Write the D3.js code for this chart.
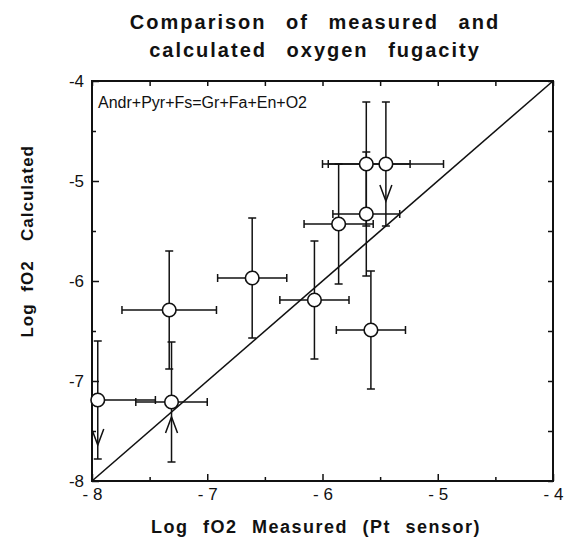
<!DOCTYPE html>
<html>
<head>
<meta charset="utf-8">
<script src="https://cdn.jsdelivr.net/npm/d3@7"></script>
<style>
  body { margin: 0; background: #fff; }
  text { font-family: "Liberation Sans", Arial, sans-serif; fill: #111; }
</style>
</head>
<body>
<script>
// data (log fO2 values)
var measured   = [-7.95, -7.31, -7.33, -6.61, -6.07, -5.58, -5.86, -5.62, -5.62, -5.45];
var calculated = [-7.19, -7.21, -6.29, -5.97, -6.19, -6.49, -5.43, -5.33, -4.83, -4.83];
var measErr    = [0.5, 0.31, 0.41, 0.3, 0.3, 0.3, 0.3, 0.29, 0.38, 0.5];
var calcErr    = [0.59, 0.6, 0.59, 0.6, 0.59, 0.59, 0.6, 0.62, 0.62, 0.62];
// limit arrows: which point, direction, tip value
var arrowPoint = [0, 1, 9];
var arrowDir   = ["down", "up", "down"];
var arrowTip   = [-7.64, -7.36, -5.2];

var xTicks = [-8, -7, -6, -5, -4];
var yTicks = [-8, -7, -6, -5, -4];
var minorTicks = [-7.5, -6.5, -5.5, -4.5];

var titleLines = ["Comparison of measured and", "calculated oxygen fugacity"];
var reaction = "Andr+Pyr+Fs=Gr+Fa+En+O2";

var margin = {top: 81, right: 11, bottom: 63, left: 92};
var width = 564 - margin.left - margin.right,
	height = 544 - margin.top - margin.bottom;

var svg = d3.select("body").append("svg")
	.attr("width", 564)
	.attr("height", 544);

var g = svg.append("g")
	.attr("transform", "translate(" + margin.left + "," + margin.top + ")");

var x = d3.scaleLinear().domain([-8, -4]).range([0, width]);
var y = d3.scaleLinear().domain([-8, -4]).range([height, 0]);

// title
svg.selectAll(".title")
	.data(titleLines)
	.enter()
	.append("text")
	.attr("class", "title")
	.attr("x", 315)
	.attr("y", function(d, i) { return 29 + i * 28; })
	.attr("text-anchor", "middle")
	.style("font-size", "20px")
	.style("font-weight", "bold")
	.style("letter-spacing", "2px")
	.style("word-spacing", "12px")
	.text(function(d) { return d; });

// axes: major ticks with labels, minor ticks without, ticks pointing inward
function styleAxis(sel) {
	sel.select(".domain").remove();
	sel.selectAll(".tick line").attr("stroke", "#111").attr("stroke-width", 1.5);
}

g.append("g")
	.attr("transform", "translate(0," + height + ")")
	.call(d3.axisBottom(x).tickValues(xTicks).tickSize(-7).tickPadding(7)
		.tickFormat(function(d) { return "- " + Math.abs(d); }))
	.call(styleAxis)
	.selectAll("text").style("font-size", "17px").attr("fill", "#111");

g.append("g")
	.attr("transform", "translate(0," + height + ")")
	.call(d3.axisBottom(x).tickValues(minorTicks).tickSize(-4).tickFormat(""))
	.call(styleAxis);

g.append("g")
	.call(d3.axisTop(x).tickValues(xTicks.concat(minorTicks)).tickSize(-5).tickFormat(""))
	.call(styleAxis);

g.append("g")
	.call(d3.axisLeft(y).tickValues(yTicks).tickSize(-7).tickPadding(8)
		.tickFormat(function(d) { return "-" + Math.abs(d); }))
	.call(styleAxis)
	.selectAll("text").style("font-size", "17px").attr("fill", "#111");

g.append("g")
	.call(d3.axisLeft(y).tickValues(minorTicks).tickSize(-4).tickFormat(""))
	.call(styleAxis);

g.append("g")
	.attr("transform", "translate(" + width + ",0)")
	.call(d3.axisRight(y).tickValues(yTicks.concat(minorTicks)).tickSize(-5).tickFormat(""))
	.call(styleAxis);

// frame
g.append("rect")
	.attr("width", width)
	.attr("height", height)
	.attr("fill", "none")
	.attr("stroke", "#111")
	.attr("stroke-width", 2);

// 1:1 line
g.append("line")
	.attr("x1", x(-8)).attr("y1", y(-8))
	.attr("x2", x(-4)).attr("y2", y(-4))
	.attr("stroke", "#111")
	.attr("stroke-width", 1.6);

// reaction label
g.append("text")
	.attr("x", 6)
	.attr("y", 27)
	.style("font-size", "16px")
	.text(reaction);

var idx = d3.range(measured.length);
var cap = 4;
var clip = function(v) { return Math.max(-8, Math.min(-4, v)); };

var bars = g.append("g")
	.attr("stroke", "#111")
	.attr("stroke-width", 1.5)
	.attr("fill", "none");

// horizontal error bars
bars.selectAll(".hbar")
	.data(idx)
	.enter()
	.append("line")
	.attr("x1", function(i) { return x(clip(measured[i] - measErr[i])); })
	.attr("x2", function(i) { return x(clip(measured[i] + measErr[i])); })
	.attr("y1", function(i) { return y(calculated[i]); })
	.attr("y2", function(i) { return y(calculated[i]); });

// horizontal caps
idx.forEach(function(i) {
	[measured[i] - measErr[i], measured[i] + measErr[i]].forEach(function(v) {
		if (v < -8) return;
		bars.append("line")
			.attr("x1", x(v)).attr("x2", x(v))
			.attr("y1", y(calculated[i]) - cap)
			.attr("y2", y(calculated[i]) + cap);
	});
});

// vertical error bars
bars.selectAll(".vbar")
	.data(idx)
	.enter()
	.append("line")
	.attr("x1", function(i) { return x(measured[i]); })
	.attr("x2", function(i) { return x(measured[i]); })
	.attr("y1", function(i) { return y(calculated[i] + calcErr[i]); })
	.attr("y2", function(i) { return y(calculated[i] - calcErr[i]); });

idx.forEach(function(i) {
	[calculated[i] - calcErr[i], calculated[i] + calcErr[i]].forEach(function(v) {
		bars.append("line")
			.attr("x1", x(measured[i]) - cap)
			.attr("x2", x(measured[i]) + cap)
			.attr("y1", y(v)).attr("y2", y(v));
	});
});

// limit arrows (open V heads)
arrowPoint.forEach(function(p, k) {
	var cx = x(measured[p]);
	var ty = y(arrowTip[k]);
	var s = arrowDir[k] == "down" ? -1 : 1;
	bars.append("path")
		.attr("d", "M" + (cx - 6) + "," + (ty + s * 16) + "L" + cx + "," + ty + "L" + (cx + 6) + "," + (ty + s * 16));
});

// data points
g.selectAll("circle")
	.data(idx)
	.enter()
	.append("circle")
	.attr("cx", function(i) { return x(measured[i]); })
	.attr("cy", function(i) { return y(calculated[i]); })
	.attr("r", 6.8)
	.attr("fill", "#fff")
	.attr("stroke", "#111")
	.attr("stroke-width", 1.6);

// axis titles
svg.append("text")
	.attr("x", 316)
	.attr("y", 533)
	.attr("text-anchor", "middle")
	.style("font-size", "18px")
	.style("font-weight", "bold")
	.style("letter-spacing", "1.5px")
	.style("word-spacing", "8px")
	.text("Log fO2 Measured (Pt sensor)");

svg.append("text")
	.attr("transform", "translate(33,299) rotate(-90)")
	.attr("text-anchor", "middle")
	.style("font-size", "17px")
	.style("font-weight", "bold")
	.style("letter-spacing", "1px")
	.style("word-spacing", "6px")
	.text("Log fO2");

svg.append("text")
	.attr("transform", "translate(33,193) rotate(-90)")
	.attr("text-anchor", "middle")
	.style("font-size", "17px")
	.style("font-weight", "bold")
	.style("letter-spacing", "1px")
	.text("Calculated");
</script>
</body>
</html>
